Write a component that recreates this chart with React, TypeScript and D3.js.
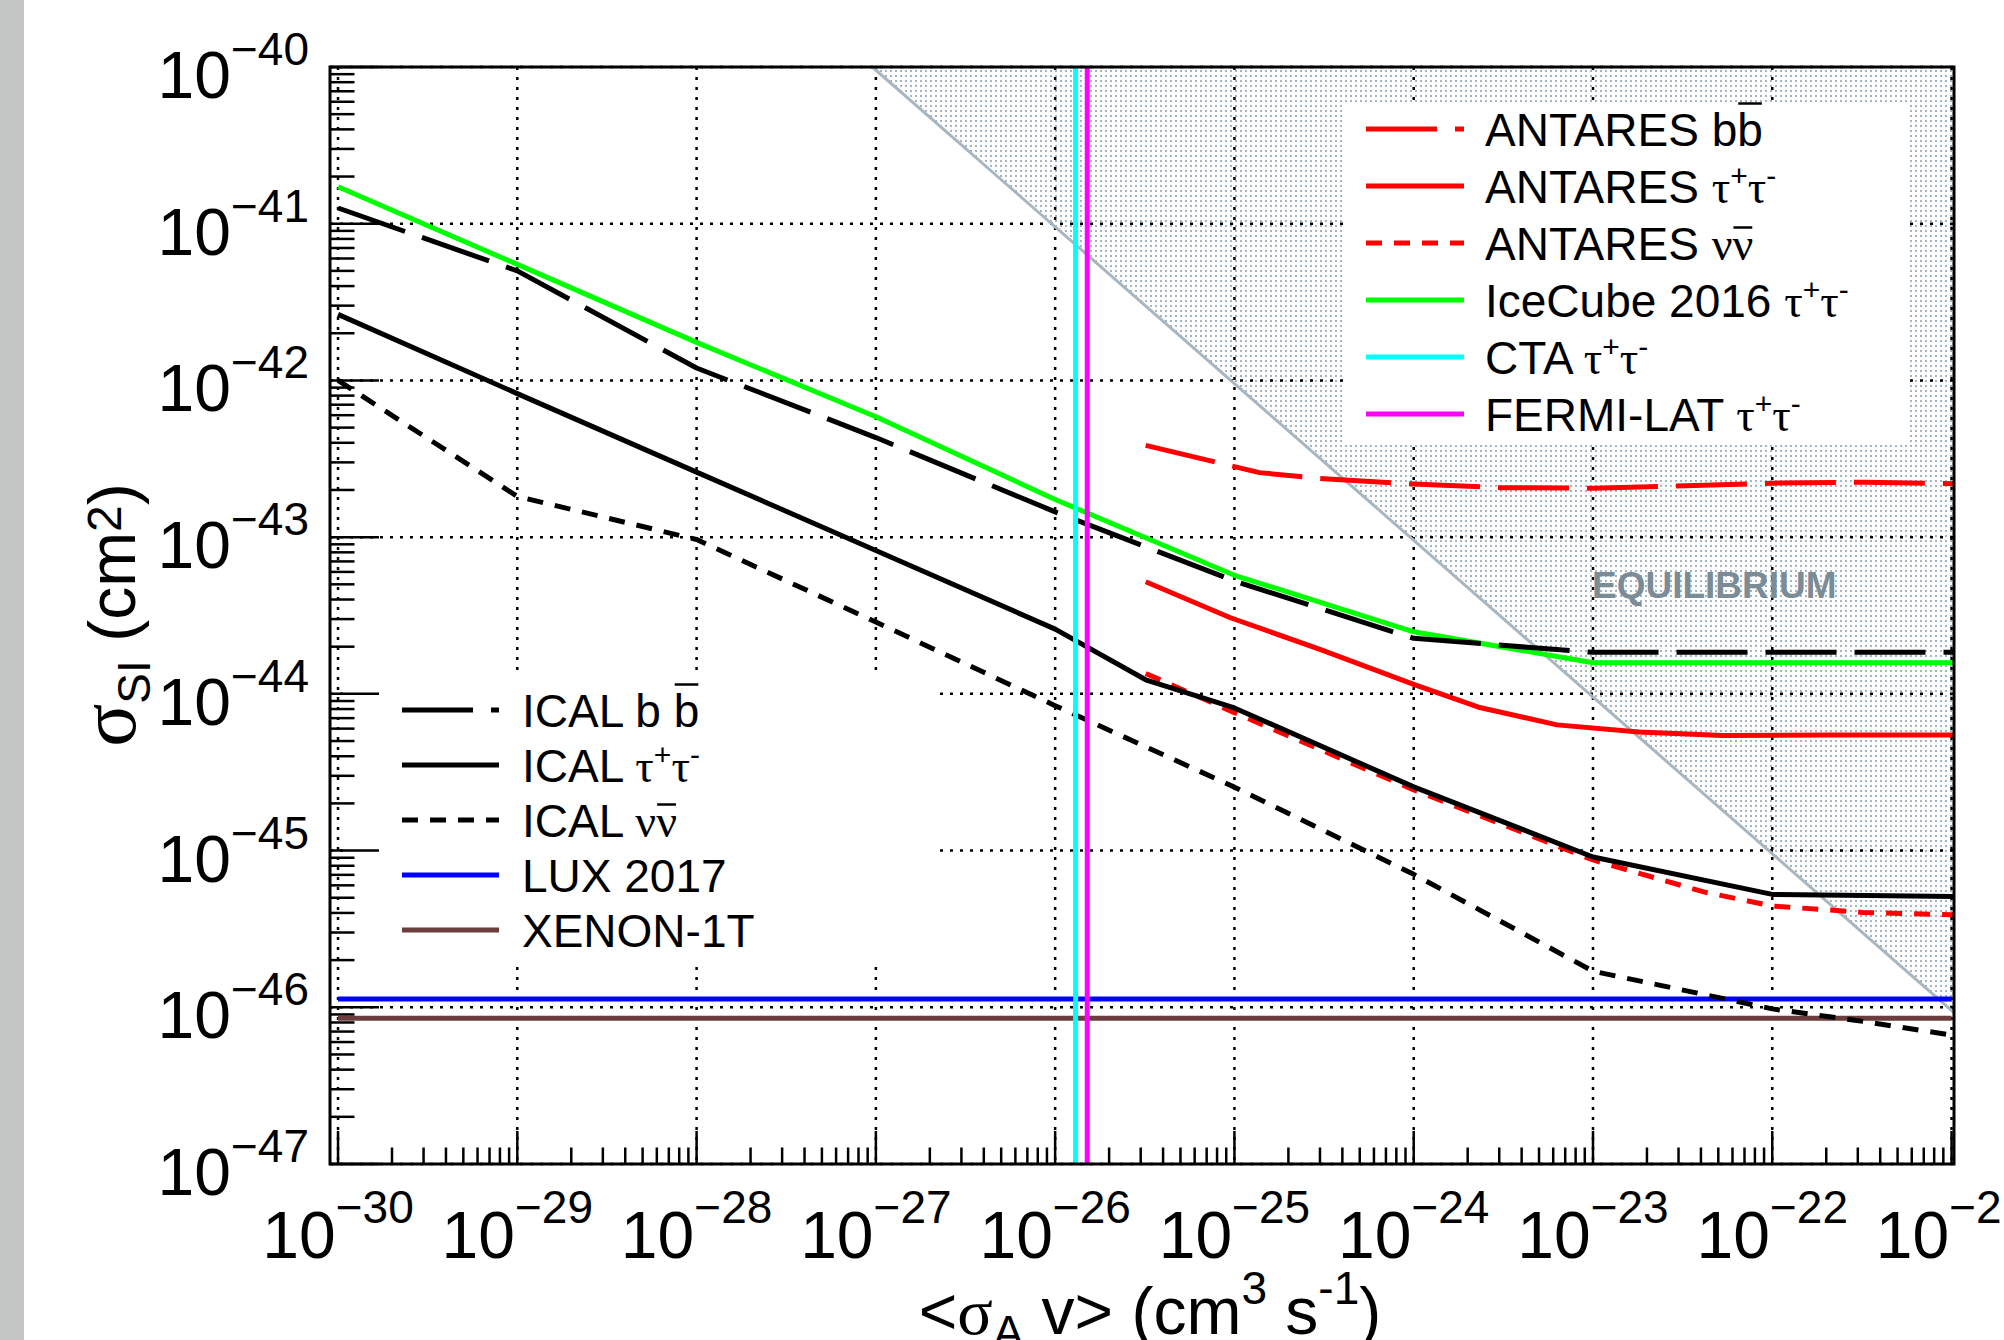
import React, { useLayoutEffect, useRef, useState } from 'react';
import * as d3 from 'd3';

const W = 2004;
const H = 1340;

const XMIN = 9.02e-31;
const XMAX = 1.032e-21;
const YMIN = 1e-47;
const YMAX = 1e-40;

const xTickExps = [-30, -29, -28, -27, -26, -25, -24, -23, -22, -21];
const yTickExps = [-47, -46, -45, -44, -43, -42, -41, -40];

// ICAL curves
const icalBbX = [1e-30, 1e-29, 1e-28, 1e-27, 1e-26, 1e-25, 1e-24, 1e-23, 1.03e-21];
const icalBbY = [1.26e-41, 5.0e-42, 1.2e-42, 4.32e-43, 1.45e-43, 5.25e-44, 2.26e-44, 1.84e-44, 1.84e-44];

const icalTauX = [1e-30, 1e-29, 1e-28, 1e-27, 1e-26, 3.2e-26, 1e-25, 1e-24, 1e-23, 1e-22, 1.03e-21];
const icalTauY = [2.64e-42, 8.24e-43, 2.6e-43, 8.22e-44, 2.59e-44, 1.23e-44, 8.13e-45, 2.55e-45, 9.1e-46, 5.25e-46, 5.09e-46];

const icalNuX = [1e-30, 1e-29, 1e-28, 1e-27, 1e-26, 1e-25, 1e-24, 1e-23, 1e-22, 3.2e-22, 1.03e-21];
const icalNuY = [1.0e-42, 1.82e-43, 9.66e-44, 2.87e-44, 8.41e-45, 2.54e-45, 7.05e-46, 1.7e-46, 9.77e-47, 8.13e-47, 6.61e-47];

// IceCube
const iceX = [1e-30, 1e-29, 1e-28, 1e-27, 1e-26, 1e-25, 1e-24, 1e-23, 1.03e-21];
const iceY = [1.72e-41, 5.5e-42, 1.75e-42, 5.86e-43, 1.74e-43, 5.71e-44, 2.49e-44, 1.58e-44, 1.58e-44];

// ANTARES
const antBbX = [3.2e-26, 1.38e-25, 3e-25, 1e-24, 3e-24, 1e-23, 3.3e-23, 1e-22, 3.3e-22, 1.03e-21];
const antBbY = [3.85e-43, 2.58e-43, 2.37e-43, 2.18e-43, 2.07e-43, 2.05e-43, 2.13e-43, 2.21e-43, 2.24e-43, 2.19e-43];

const antTauX = [3.2e-26, 9.5e-26, 3e-25, 1e-24, 2.3e-24, 6.3e-24, 1.8e-23, 5.3e-23, 2.1e-22, 1.03e-21];
const antTauY = [5.19e-44, 3.06e-44, 1.92e-44, 1.15e-44, 8.22e-45, 6.34e-45, 5.71e-45, 5.42e-45, 5.47e-45, 5.47e-45];

const antNuX = [3.2e-26, 1e-25, 1e-24, 1e-23, 4.2e-23, 1e-22, 3.2e-22, 1.03e-21];
const antNuY = [1.35e-44, 7.59e-45, 2.44e-45, 8.71e-46, 5.43e-46, 4.43e-46, 4.03e-46, 3.89e-46];

// Direct detection limits (horizontal)
const luxX = [1e-30, 1e-21];
const luxY = [1.13e-46, 1.13e-46];
const xenonX = [1e-30, 1e-21];
const xenonY = [8.5e-47, 8.5e-47];

// Gamma-ray (vertical)
const ctaX = [1.3e-26, 1.3e-26];
const fermiX = [1.51e-26, 1.51e-26];
const vertY = [1e-47, 1e-40];

// Equilibrium boundary
const eqX = [9.55e-28, 1.032e-21];
const eqY = [1e-40, 9.25e-47];

const SANS = "'Liberation Sans', Arial, Helvetica, sans-serif";
const SERIF = "'Liberation Serif', 'Times New Roman', serif";

const BBDASH = '71 18';
const NUDASH = '16 12';
const LW = 5;

type Bar = { x1: number; x2: number; y: number };

export default function App() {
  const svgRef = useRef<SVGSVGElement>(null);
  const [bars, setBars] = useState<Bar[]>([]);

  useLayoutEffect(() => {
    const svg = svgRef.current;
    if (!svg) return;
    const out: Bar[] = [];
    svg.querySelectorAll('tspan[data-bar]').forEach((el: any) => {
      const bb = el.getBBox();
      const t = el.closest('text');
      const baseY = parseFloat(t.getAttribute('y'));
      const off = parseFloat(el.getAttribute('data-bar'));
      out.push({ x1: bb.x + 1, x2: bb.x + bb.width - 1, y: baseY - off });
    });
    setBars(out);
  }, []);

  const x = d3.scaleLog().domain([XMIN, XMAX]).range([330, 1954]);
  const y = d3.scaleLog().domain([YMIN, YMAX]).range([1164, 67]);
  const [fx0, fx1] = x.range();
  const [fy0, fy1] = y.range();

  const lineGen = d3
    .line<[number, number]>()
    .x((d) => x(d[0]))
    .y((d) => y(d[1]));
  const path = (xs: number[], ys: number[]) =>
    lineGen(xs.map((v, i) => [v, ys[i]] as [number, number])) || '';

  const minorX: number[] = [];
  for (let d = -31; d <= -21; d++) {
    for (let k = 2; k <= 9; k++) {
      const v = k * Math.pow(10, d);
      if (v > XMIN && v < XMAX) minorX.push(v);
    }
  }
  const minorY: number[] = [];
  for (let d = -47; d <= -41; d++) {
    for (let k = 2; k <= 9; k++) minorY.push(k * Math.pow(10, d));
  }

  const eqPoly = [
    [x(eqX[0]), y(eqY[0])],
    [fx1, fy1],
    [x(eqX[1]), y(eqY[1])],
  ]
    .map((p) => p.join(','))
    .join(' ');

  const sup = (s: string) => '\u2212' + s;

  const tau = (
    <>
      <tspan fontFamily={SERIF}>τ</tspan>
      <tspan fontSize={30} dy={-17}>+</tspan>
      <tspan fontFamily={SERIF} fontSize={46} dy={17}>τ</tspan>
      <tspan fontSize={30} dy={-17}>-</tspan>
    </>
  );
  const nunu = (
    <>
      <tspan fontFamily={SERIF}>ν</tspan>
      <tspan fontFamily={SERIF} data-bar="32">ν</tspan>
    </>
  );

  const leftLegend = [
    { color: '#000', dash: BBDASH, label: <>ICAL b <tspan data-bar="42">b</tspan></> },
    { color: '#000', dash: undefined, label: <>ICAL {tau}</> },
    { color: '#000', dash: NUDASH, label: <>ICAL {nunu}</> },
    { color: '#0000ff', dash: undefined, label: <>LUX 2017</> },
    { color: '#6b3d3d', dash: undefined, label: <>XENON-1T</> },
  ];
  const rightLegend = [
    { color: '#ff0000', dash: BBDASH, label: <>ANTARES b<tspan data-bar="42">b</tspan></> },
    { color: '#ff0000', dash: undefined, label: <>ANTARES {tau}</> },
    { color: '#ff0000', dash: NUDASH, label: <>ANTARES {nunu}</> },
    { color: '#00ff00', dash: undefined, label: <>IceCube 2016 {tau}</> },
    { color: '#00ffff', dash: undefined, label: <>CTA {tau}</> },
    { color: '#ff00ff', dash: undefined, label: <>FERMI-LAT {tau}</> },
  ];

  return (
    <svg
      ref={svgRef}
      width={W}
      height={H}
      viewBox={`0 0 ${W} ${H}`}
      style={{ position: 'absolute', left: 0, top: 0, background: '#fff' }}
      fontFamily={SANS}
    >
      <defs>
        <pattern id="dots" width={5} height={5} patternUnits="userSpaceOnUse">
          <rect x={0} y={0} width={2} height={2} fill="#a3b3bf" />
        </pattern>
      </defs>
      <rect x={0} y={0} width={W} height={H} fill="#fff" />
      <rect x={0} y={0} width={24} height={H} fill="#c4c6c6" />

      {/* equilibrium shaded region */}
      <polygon points={eqPoly} fill="url(#dots)" stroke="none" />

      {/* grid */}
      <g stroke="#000" strokeWidth={2.5} strokeDasharray="3 7" fill="none">
        {xTickExps.map((e) => (
          <line key={'gx' + e} x1={x(Math.pow(10, e))} x2={x(Math.pow(10, e))} y1={fy1} y2={fy0} />
        ))}
        {yTickExps.map((e) => (
          <line key={'gy' + e} x1={fx0} x2={fx1} y1={y(Math.pow(10, e))} y2={y(Math.pow(10, e))} />
        ))}
      </g>

      <text x={1592} y={598} fontSize={37} fontWeight="bold" fill="#7b8c97">
        EQUILIBRIUM
      </text>
      <path d={path(eqX, eqY)} stroke="#a9b6bf" strokeWidth={3} fill="none" />

      {/* legend backgrounds */}
      <rect x={350} y={675} width={590} height={285} fill="#fff" />
      <rect x={1345} y={102} width={562} height={340} fill="#fff" />

      {/* curves */}
      <g fill="none" strokeWidth={LW} strokeLinejoin="round">
        <path d={path(luxX, luxY)} stroke="#0000ff" />
        <path d={path(xenonX, xenonY)} stroke="#6b3d3d" />
        <path d={path(iceX, iceY)} stroke="#00ff00" />
        <path d={path(antBbX, antBbY)} stroke="#ff0000" strokeDasharray={BBDASH} />
        <path d={path(antNuX, antNuY)} stroke="#ff0000" strokeDasharray={NUDASH} />
        <path d={path(antTauX, antTauY)} stroke="#ff0000" />
        <path d={path(icalBbX, icalBbY)} stroke="#000" strokeDasharray={BBDASH} />
        <path d={path(icalNuX, icalNuY)} stroke="#000" strokeDasharray={NUDASH} />
        <path d={path(icalTauX, icalTauY)} stroke="#000" />
        <path d={path(ctaX, vertY)} stroke="#00ffff" />
        <path d={path(fermiX, vertY)} stroke="#ff00ff" />
      </g>

      {/* legends */}
      <g fontSize={46} fill="#000">
        {leftLegend.map((e, i) => {
          const ly = 710 + i * 55;
          return (
            <g key={'ll' + i}>
              <line x1={402} x2={499} y1={ly} y2={ly} stroke={e.color} strokeWidth={LW} strokeDasharray={e.dash} />
              <text x={522} y={ly + 16.5}>{e.label}</text>
            </g>
          );
        })}
        {rightLegend.map((e, i) => {
          const ly = 129 + i * 57;
          return (
            <g key={'rl' + i}>
              <line x1={1366} x2={1464} y1={ly} y2={ly} stroke={e.color} strokeWidth={LW} strokeDasharray={e.dash} />
              <text x={1485} y={ly + 16.5}>{e.label}</text>
            </g>
          );
        })}
      </g>
      <g stroke="#000" strokeWidth={2.5}>
        {bars.map((b, i) => (
          <line key={'bar' + i} x1={b.x1} x2={b.x2} y1={b.y} y2={b.y} />
        ))}
      </g>

      {/* frame and ticks */}
      <g stroke="#000" strokeWidth={2.5}>
        {xTickExps.map((e) => (
          <line key={'tx' + e} x1={x(Math.pow(10, e))} x2={x(Math.pow(10, e))} y1={fy0} y2={fy0 - 33} />
        ))}
        {minorX.map((v, i) => (
          <line key={'mx' + i} x1={x(v)} x2={x(v)} y1={fy0} y2={fy0 - 16.5} />
        ))}
        {yTickExps.map((e) => (
          <line key={'ty' + e} x1={fx0} x2={fx0 + 49} y1={y(Math.pow(10, e))} y2={y(Math.pow(10, e))} />
        ))}
        {minorY.map((v, i) => (
          <line key={'my' + i} x1={fx0} x2={fx0 + 24.5} y1={y(v)} y2={y(v)} />
        ))}
      </g>
      <rect x={fx0} y={fy1} width={fx1 - fx0} height={fy0 - fy1} fill="none" stroke="#000" strokeWidth={3} />

      {/* tick labels */}
      <g fill="#000">
        {xTickExps.map((e) => (
          <text key={'lx' + e} x={x(Math.pow(10, e))} y={1258} fontSize={66} textAnchor="middle">
            <tspan>10</tspan>
            <tspan fontSize={46} dy={-35}>{sup(String(Math.abs(e)))}</tspan>
          </text>
        ))}
        {yTickExps.map((e) => (
          <text key={'ly' + e} x={309} y={y(Math.pow(10, e)) + 31} fontSize={66} textAnchor="end">
            <tspan>10</tspan>
            <tspan fontSize={46} dy={-33}>{sup(String(Math.abs(e)))}</tspan>
          </text>
        ))}
      </g>

      {/* axis titles */}
      <text x={1150} y={1334} fontSize={66} textAnchor="middle" fill="#000">
        <tspan>&lt;</tspan>
        <tspan fontFamily={SERIF}>σ</tspan>
        <tspan fontSize={46} dy={14}>A</tspan>
        <tspan dy={-14} dx={18}>v&gt; (cm</tspan>
        <tspan fontSize={46} dy={-30}>3</tspan>
        <tspan dy={30}> s</tspan>
        <tspan fontSize={46} dy={-30}>-1</tspan>
        <tspan dy={30}>)</tspan>
      </text>
      <text transform="translate(135,615) rotate(-90)" fontSize={66} textAnchor="middle" fill="#000">
        <tspan fontFamily={SERIF} fontSize={80}>σ</tspan>
        <tspan fontSize={46} dy={15}>SI</tspan>
        <tspan dy={-15}> (cm</tspan>
        <tspan fontSize={48} dy={-14}>2</tspan>
        <tspan dy={14}>)</tspan>
      </text>
    </svg>
  );
}
